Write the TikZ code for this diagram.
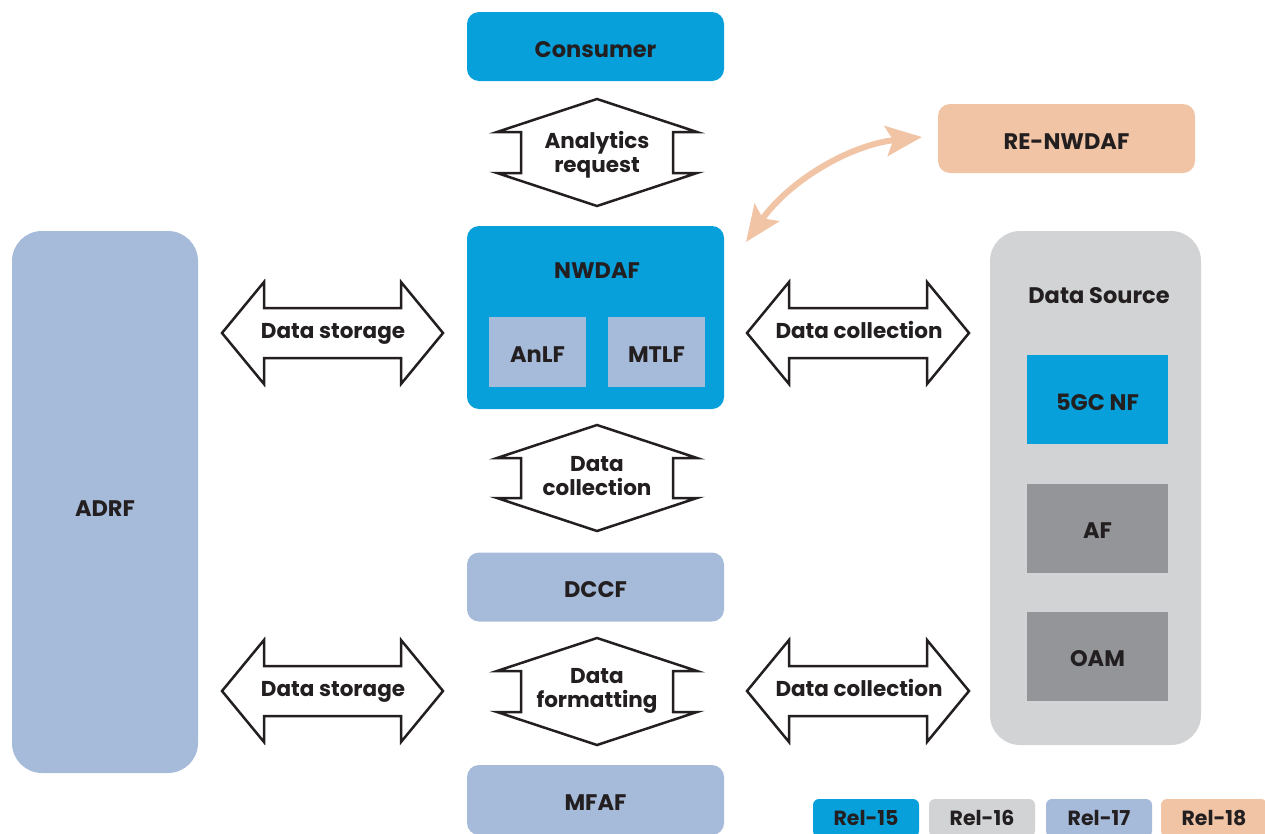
\documentclass[tikz,border=0pt]{standalone}
\usepackage{fontspec}
\setmainfont{Poppins}
\usetikzlibrary{arrows.meta}
\definecolor{relA}{HTML}{07A0DB}
\definecolor{relB}{HTML}{D1D3D5}
\definecolor{relC}{HTML}{A6BBDA}
\definecolor{relD}{HTML}{F0C4A4}
\definecolor{darkgray}{HTML}{939598}
\definecolor{txt}{HTML}{231F20}
\begin{document}
\begin{tikzpicture}[x=1pt,y=-1pt,
  lbl/.style={font=\fontsize{22.5}{26}\selectfont\bfseries, text=txt, inner sep=0pt, align=center},
  blbl/.style={lbl, text height=21pt, text depth=0pt},
  box/.style={blbl, rounded corners=12pt, minimum width=257pt, minimum height=69pt},
  sqbox/.style={blbl, minimum width=141pt, minimum height=89pt},
  tall/.style={lbl, rounded corners=30pt},
  arrlbl/.style={font=\fontsize{21.5}{24}\selectfont\bfseries, text=txt, inner sep=0pt, align=center},
  harrlbl/.style={arrlbl, text height=10pt, text depth=0pt},
  fat/.style={draw=txt, line width=2.5pt, fill=white, line join=miter},
  leg/.style={font=\fontsize{20.5}{24}\selectfont\bfseries, text=txt, inner sep=0pt, text height=14pt, text depth=0pt, rounded corners=6pt, minimum width=106pt, minimum height=38pt},
  curvy/.style={draw=relD, line width=6pt, {Stealth[length=36pt,width=30pt,inset=7pt]}-{Stealth[length=36pt,width=30pt,inset=7pt]}}
]
\useasboundingbox (0,0) rectangle (1265,833);

% main boxes
\node[box, fill=relA] (consumer) at (595.5,46.5) {Consumer};
\node[box, fill=relD] (renwdaf) at (1066.5,138.5) {RE-NWDAF};
\node[box, fill=relA, minimum height=183pt] (nwdaf) at (595.5,317.5) {};
\node[lbl, anchor=base] (nwdaflbl) at (597,278) {NWDAF};
\node[blbl, fill=relC, minimum width=97pt, minimum height=70pt] (anlf) at (537.5,352) {AnLF};
\node[blbl, fill=relC, minimum width=97pt, minimum height=70pt] (mtlf) at (656.5,352) {MTLF};
\node[box, fill=relC] (dccf) at (595.5,587) {DCCF};
\node[box, fill=relC, minimum height=70pt] (mfaf) at (595.5,800) {MFAF};

\node[tall, fill=relC, minimum width=186pt, minimum height=542pt] (adrf) at (105,502) {};
\node[lbl, anchor=base] (adrflbl) at (105,516) {ADRF};

\node[tall, fill=relB, minimum width=211pt, minimum height=514pt] (datasource) at (1095.5,488) {};
\node[lbl, anchor=base] (dslbl) at (1099,303) {Data Source};
\node[sqbox, fill=relA] (gcnf) at (1097.5,399.5) {5GC NF};
\node[sqbox, fill=darkgray] (af) at (1097.5,528) {AF};
\node[sqbox, fill=darkgray] (oam) at (1097.5,656) {OAM};

% vertical double arrows
\foreach \t/\b in {99/206, 425/531, 638/745}{
  \path[fat] (597,\t) -- (697,\t+33) -- (673,\t+33) -- (673,\b-33) -- (697,\b-33)
    -- (597,\b) -- (497,\b-33) -- (521,\b-33) -- (521,\t+33) -- (497,\t+33) -- cycle;
}
\node[arrlbl] (areq) at (597,155) {Analytics\\request};
\node[arrlbl] (dcoll) at (597,476) {Data\\collection};
\node[arrlbl] (dfmt) at (597,691) {Data\\formatting};

% horizontal double arrows
\foreach \x/\X/\c in {222/443/333, 747/969/333, 222/443/691, 747/969/691}{
  \path[fat] (\x,\c) -- (\x+42,\c-51) -- (\x+42,\c-25) -- (\X-42,\c-25) -- (\X-42,\c-51)
    -- (\X,\c) -- (\X-42,\c+51) -- (\X-42,\c+25) -- (\x+42,\c+25) -- (\x+42,\c+51) -- cycle;
}
\node[harrlbl] (dstore1) at (333,333) {Data storage};
\node[harrlbl] (dcoll1) at (859,333) {Data collection};
\node[harrlbl] (dstore2) at (333,691) {Data storage};
\node[harrlbl] (dcoll2) at (859,691) {Data collection};

% curved arrow between NWDAF and RE-NWDAF
\coordinate (cA) at (746,242);
\coordinate (cB) at (922,137);
\draw[curvy] (cA) .. controls (790,180) and (850,145) .. (cB);

% legend
\node[leg, fill=relA] (l15) at (866,818) {Rel-15};
\node[leg, fill=relB] (l16) at (982,818) {Rel-16};
\node[leg, fill=relC] (l17) at (1099,818) {Rel-17};
\node[leg, fill=relD] (l18) at (1214,818) {Rel-18};
\end{tikzpicture}
\end{document}
